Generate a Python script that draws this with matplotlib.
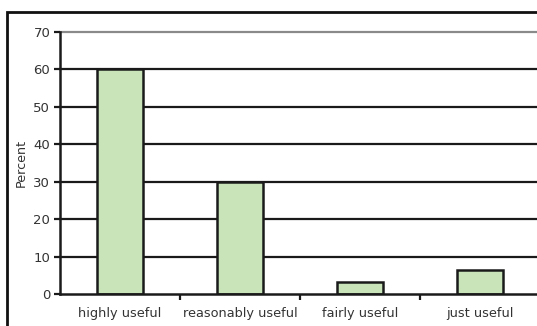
import matplotlib
matplotlib.use("Agg")
import matplotlib.pyplot as plt
from matplotlib.patches import Rectangle

categories = ["highly useful", "reasonably useful", "fairly useful", "just useful"]
percent = [60, 30, 3.3, 6.4]
y_ticks = [0, 10, 20, 30, 40, 50, 60, 70]

plt.rcParams["font.family"] = ["DejaVu Sans"]

fig = plt.figure(figsize=(5.37, 3.26), dpi=100)
ax = fig.add_axes([60 / 537, 32 / 326, 480 / 537, 262 / 326])

# outer frame
fig.patches.append(Rectangle((7 / 537, -0.1), 1.2, 1.0 - 12 / 326 + 0.1,
                             transform=fig.transFigure, fill=False,
                             edgecolor="#111111", linewidth=2.0, zorder=0))

x = range(len(categories))
ax.bar(x, percent, width=0.385, color="#c8e4b8", edgecolor="#1a1a1a",
       linewidth=1.8, zorder=3)

for t in y_ticks[1:]:
    ax.axhline(t, color="#8a8a8a" if t == 70 else "#1a1a1a",
               linewidth=1.6, zorder=1, clip_on=False)

ax.set_xlim(-0.5, 3.5)
ax.set_ylim(0, 70)
ax.set_yticks(y_ticks)
ax.set_xticks(list(x))
ax.set_xticklabels(categories)
ax.set_xticks([0.5, 1.5, 2.5], minor=True)
ax.tick_params(axis="x", which="major", length=0, labelsize=9.3, pad=9, colors="#333333")
ax.tick_params(axis="x", which="minor", length=4, width=1.6, direction="out", color="#1a1a1a")
ax.tick_params(axis="y", length=4, width=1.6, labelsize=9.5, pad=3, labelcolor="#333333", color="#1a1a1a")

for s in ["top", "right"]:
    ax.spines[s].set_visible(False)
for s in ["left", "bottom"]:
    ax.spines[s].set_linewidth(1.8)
    ax.spines[s].set_color("#1a1a1a")
    ax.spines[s].set_zorder(4)

ax.set_ylabel("Percent", fontsize=9.2, color="#333333")
ax.yaxis.set_label_coords(-(60 - 28) / 480, 0.5)

fig.savefig("out.png", dpi=100)
